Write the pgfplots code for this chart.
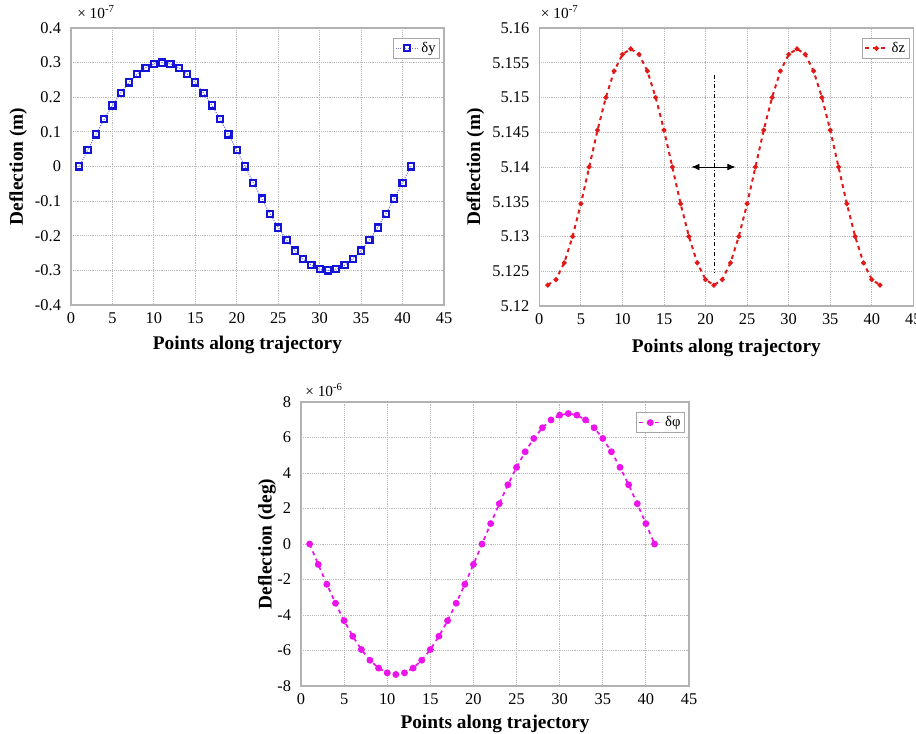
\documentclass[border=0pt]{standalone}
\usepackage{pgfplots}
\pgfplotsset{compat=1.18}
\usepackage{fontspec}
\setmainfont{Liberation Serif}
\usetikzlibrary{arrows.meta}
\definecolor{mag}{RGB}{235,20,235}
\definecolor{myred}{RGB}{225,25,25}
\definecolor{myblue}{RGB}{20,20,215}
\pgfplotstableread{
i v
1 0
2 0.0469
3 0.0927
4 0.1362
5 0.1763
6 0.2121
7 0.2427
8 0.2673
9 0.2853
10 0.2963
11 0.3000
12 0.2963
13 0.2853
14 0.2673
15 0.2427
16 0.2121
17 0.1763
18 0.1362
19 0.0927
20 0.0469
21 0
22 -0.0469
23 -0.0927
24 -0.1362
25 -0.1763
26 -0.2121
27 -0.2427
28 -0.2673
29 -0.2853
30 -0.2963
31 -0.3000
32 -0.2963
33 -0.2853
34 -0.2673
35 -0.2427
36 -0.2121
37 -0.1763
38 -0.1362
39 -0.0927
40 -0.0469
41 0
}\dy
\pgfplotstableread{
i v
1 5.1230
2 5.1238
3 5.1262
4 5.1300
5 5.1347
6 5.1400
7 5.1453
8 5.1500
9 5.1538
10 5.1562
11 5.1570
12 5.1562
13 5.1538
14 5.1500
15 5.1453
16 5.1400
17 5.1347
18 5.1300
19 5.1262
20 5.1238
21 5.1230
22 5.1238
23 5.1262
24 5.1300
25 5.1347
26 5.1400
27 5.1453
28 5.1500
29 5.1538
30 5.1562
31 5.1570
32 5.1562
33 5.1538
34 5.1500
35 5.1453
36 5.1400
37 5.1347
38 5.1300
39 5.1262
40 5.1238
41 5.1230
}\dz
\pgfplotstableread{
i v
1 0
2 -1.150
3 -2.271
4 -3.337
5 -4.320
6 -5.197
7 -5.946
8 -6.549
9 -6.990
10 -7.260
11 -7.350
12 -7.260
13 -6.990
14 -6.549
15 -5.946
16 -5.197
17 -4.320
18 -3.337
19 -2.271
20 -1.150
21 0
22 1.150
23 2.271
24 3.337
25 4.320
26 5.197
27 5.946
28 6.549
29 6.990
30 7.260
31 7.350
32 7.260
33 6.990
34 6.549
35 5.946
36 5.197
37 4.320
38 3.337
39 2.271
40 1.150
41 0
}\dphi
\begin{document}
\begin{tikzpicture}[x=1pt,y=1pt]
\useasboundingbox (0,0) rectangle (687,550.5);
\pgfplotsset{
 every axis/.append style={
  scale only axis,
  anchor=south west,
  clip mode=individual,
  xmin=0,xmax=45, xtick={0,5,10,15,20,25,30,35,40,45},
  grid=major,
  major grid style={densely dotted, gray!55, line width=0.6pt},
  axis line style={gray!60, line width=0.8pt},
  tick style={draw=none},
  ticklabel style={font=\fontsize{12.3}{13}\selectfont},
  xticklabel style={yshift=-2.5pt},
  yticklabel style={xshift=-4pt},
  label style={font=\fontsize{14.5}{16}\selectfont\bfseries},
  /pgf/number format/assume math mode=true,
  scaled ticks=false,
  legend cell align=left,
  legend style={at={(rel axis cs:0.99,0.965)}, anchor=north east, draw=gray!70, line width=0.8pt, font=\fontsize{11}{12}\selectfont, inner sep=1pt},
  xlabel={Points along trajectory},
 }
}
% plot 1
\begin{axis}[at={(53.25pt,321.75pt)}, width=279.75pt, height=207.75pt,
  ymin=-0.4, ymax=0.4, ytick={-0.4,-0.3,-0.2,-0.1,0,0.1,0.2,0.3,0.4},
  ylabel={Deflection (m)},
  ylabel style={at={(axis description cs:-0.142,0.5)}, anchor=center},
  xlabel style={at={(axis description cs:0.473,-0.144)}, anchor=center}]
\addplot[myblue!60, densely dotted, line width=0.8pt, mark=square, mark size=2.3pt, mark options={solid, draw=myblue, line width=1.6pt, fill=white}] table[x=i,y=v] {\dy};
\addlegendentry{δy}
\node[anchor=south west, inner sep=0pt, font=\fontsize{11.5}{12}\selectfont] at (rel axis cs:0,1) [xshift=4.5pt, yshift=7pt] {× 10\textsuperscript{-7}};
\end{axis}
% plot 2
\begin{axis}[at={(404.5pt,321pt)}, width=280.5pt, height=208.5pt,
  ymin=5.12, ymax=5.16, ytick={5.12,5.125,5.13,5.135,5.14,5.145,5.15,5.155,5.16},
  /pgf/number format/.cd, fixed, precision=3, /pgfplots/.cd,
  ylabel={Deflection (m)},
  ylabel style={at={(axis description cs:-0.171,0.5)}, anchor=center},
  xlabel style={at={(axis description cs:0.5,-0.15)}, anchor=center}]
\addplot[myred, dashed, line width=1.5pt, mark=*, mark size=1pt, mark options={solid}] table[x=i,y=v] {\dz};
\addlegendentry{δz}
\addplot[black, dash dot, line width=0.5pt, forget plot] coordinates {(21,5.1533) (21,5.1247)};
\addplot[black, line width=0.6pt, {Latex[length=6pt,width=5pt]}-{Latex[length=6pt,width=5pt]}, forget plot] coordinates {(18.3,5.140) (23.6,5.140)};
\node[anchor=south west, inner sep=0pt, font=\fontsize{11.5}{12}\selectfont] at (rel axis cs:0,1) [xshift=1pt, yshift=7pt] {× 10\textsuperscript{-7}};
\end{axis}
% plot 3
\begin{axis}[at={(225.75pt,36pt)}, width=291pt, height=213pt,
  ymin=-8, ymax=8, ytick={-8,-6,-4,-2,0,2,4,6,8},
  ylabel={Deflection (deg)},
  ylabel style={at={(axis description cs:-0.088,0.5)}, anchor=center},
  xlabel style={at={(axis description cs:0.5,-0.135)}, anchor=center}]
\addplot[mag, dashed, line width=1.3pt, mark=*, mark size=1.9pt, mark options={solid, fill=mag}] table[x=i,y=v] {\dphi};
\addlegendentry{δφ}
\node[anchor=south west, inner sep=0pt, font=\fontsize{11.5}{12}\selectfont] at (rel axis cs:0,1) [xshift=3pt, yshift=4pt] {× 10\textsuperscript{-6}};
\end{axis}
\end{tikzpicture}
\end{document}
